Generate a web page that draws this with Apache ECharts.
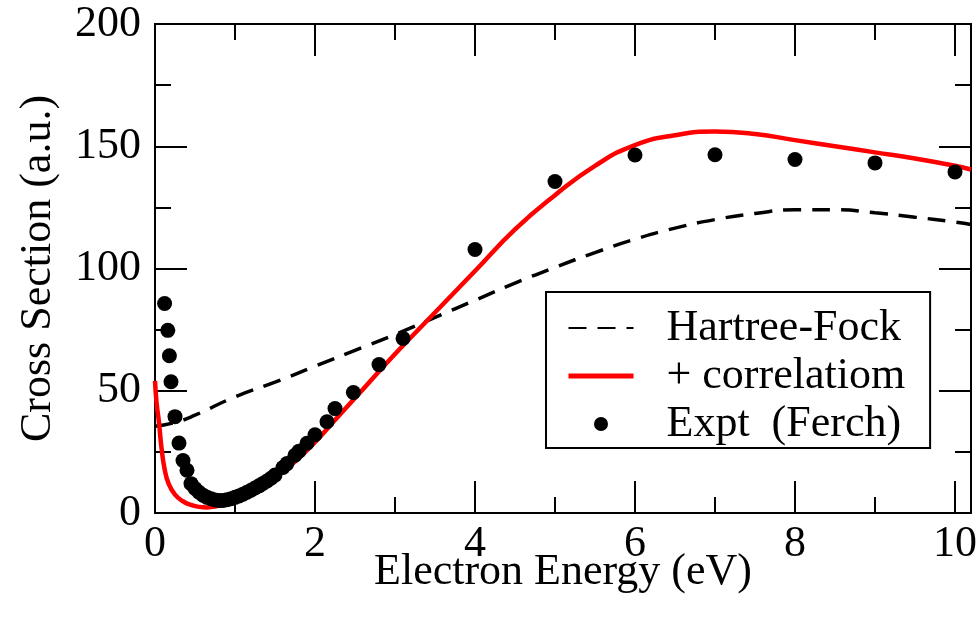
<!DOCTYPE html>
<html>
<head>
<meta charset="utf-8">
<script src="https://cdn.jsdelivr.net/npm/echarts@6/dist/echarts.min.js"></script>
<style>
html,body{margin:0;padding:0;background:#fff;}
#main{width:980px;height:621px;}
</style>
</head>
<body>
<div id="main"></div>
<script>
// 读图得到的数据
var hfX = [0, 0.25, 0.5, 1, 1.5, 2, 2.5, 3, 3.5, 4, 4.5, 5, 5.5, 6, 6.5, 7, 7.5, 8, 8.5, 9, 9.5, 10, 10.2];
var hfY = [35.5, 37, 40, 47.5, 53.5, 60, 66.5, 73, 80, 87, 94, 100.5, 106.5, 112, 116.5, 120, 122.5, 124, 124, 122.8, 121, 119, 118];

var corrX = [0, 0.02, 0.05, 0.08, 0.12, 0.17, 0.25, 0.35, 0.45, 0.55, 0.65, 0.75, 0.9, 1.0, 1.25, 1.5, 1.75, 2.0, 2.25, 2.5, 3.0, 3.5, 4.0, 4.5, 5.0, 5.5, 6.0, 6.5, 7.0, 7.5, 8.0, 8.5, 9.0, 9.5, 10.0, 10.2];
var corrY = [54, 45, 37, 27, 18, 12, 7.5, 4.8, 3.3, 2.5, 2.3, 2.6, 3.8, 5, 9, 14.5, 21, 29, 38, 47, 65, 82, 99, 116, 130, 142, 150.5, 154.5, 156, 155, 152.5, 150, 147.5, 145, 142, 140.5];

var exptX = [0.12, 0.16, 0.18, 0.2, 0.25, 0.3, 0.35, 0.4, 0.45, 0.5, 0.55, 0.6, 0.65, 0.7, 0.75, 0.8, 0.85, 0.9, 0.95, 1.0, 1.05, 1.1, 1.15, 1.2, 1.25, 1.3, 1.35, 1.4, 1.45, 1.5, 1.6, 1.65, 1.75, 1.8, 1.9, 2.0, 2.15, 2.25, 2.48, 2.8, 3.1, 4, 5, 6, 7, 8, 9, 10];
var exptY = [85.7, 74.7, 64.3, 53.7, 39.4, 28.6, 21.5, 17.5, 12, 10, 8.5, 7.3, 6.4, 5.8, 5.3, 5.1, 5.1, 5.4, 5.8, 6.4, 7.0, 7.7, 8.5, 9.3, 10.2, 11.1, 12.1, 13.1, 14.2, 15.5, 18.6, 20.2, 23.6, 25.3, 28.5, 32, 37.3, 42.7, 49.3, 60.7, 71.4, 107.8, 135.6, 146.4, 146.5, 144.6, 143.2, 139.5];

var xMajor = [0, 2, 4, 6, 8, 10];
var xMinor = [1, 3, 5, 7, 9];

function pairs(xs, ys) {
    var out = [];
    for (var i = 0; i < xs.length; i++) out.push([xs[i], ys[i]]);
    return out;
}

var FONT = 'Liberation Serif';
var FS = 44;
var myChart = echarts.init(document.getElementById('main'));

function xAx(pos, vals, len, labels, name) {
    return {
        type: 'value', position: pos, min: 0, max: 10.2,
        name: name || '', nameLocation: 'middle', nameGap: 37, nameMoveOverlap: false,
        nameTextStyle: {fontFamily: FONT, fontSize: FS, color: '#000'},
        axisLine: {show: true, onZero: false, lineStyle: {color: '#000', width: 2}},
        axisTick: {show: true, inside: true, length: len, customValues: vals, lineStyle: {color: '#000', width: 2}},
        axisLabel: {show: labels, customValues: vals, margin: 9, fontFamily: FONT, fontSize: FS, color: '#000'},
        splitLine: {show: false}
    };
}
function yAx(pos, labels, name) {
    return {
        type: 'value', position: pos, min: 0, max: 200, interval: 50,
        name: name || '', nameLocation: 'middle', nameGap: 95,
        nameTextStyle: {fontFamily: FONT, fontSize: FS, color: '#000'},
        axisLine: {show: true, onZero: false, lineStyle: {color: '#000', width: 2}},
        axisTick: {show: true, inside: true, length: 32, lineStyle: {color: '#000', width: 2}},
        minorTick: {show: true, splitNumber: 2, length: 16, lineStyle: {color: '#000', width: 2}},
        axisLabel: {show: labels, margin: 14, fontFamily: FONT, fontSize: FS, color: '#000'},
        splitLine: {show: false}
    };
}

var option = {
    animation: false,
    backgroundColor: '#fff',
    grid: {left: 155, right: 9, top: 24, bottom: 108},
    xAxis: [
        xAx('bottom', xMajor, 32, true, 'Electron Energy (eV)'),
        xAx('bottom', xMinor, 16, false),
        xAx('top', xMajor, 32, false),
        xAx('top', xMinor, 16, false)
    ],
    yAxis: [
        yAx('left', true, 'Cross Section (a.u.)'),
        yAx('right', false)
    ],
    legend: {
        orient: 'vertical', left: 546, top: 292,
        backgroundColor: '#fff',
        borderColor: '#000', borderWidth: 2, borderRadius: 0,
        padding: [14, 25, 2, 20],
        itemWidth: 65, itemHeight: 14, itemGap: 4,
        textStyle: {fontFamily: FONT, fontSize: FS, color: '#000', lineHeight: 44, width: 238, overflow: 'none', padding: [0, 0, 0, 28]},
        data: [
            {name: 'Hartree-Fock', itemStyle: {opacity: 0}},
            {name: '+ correlatiom', itemStyle: {opacity: 0}, lineStyle: {width: 5}},
            {name: 'Expt  (Ferch)'}
        ]
    },
    series: [{
        name: 'Hartree-Fock',
        type: 'line',
        smooth: 0.5,
        symbol: 'none',
        lineStyle: {color: '#000', width: 3.5, type: [18, 11]},
        itemStyle: {color: '#000'},
        data: pairs(hfX, hfY)
    }, {
        name: '+ correlatiom',
        type: 'line',
        smooth: 0.5,
        symbol: 'none',
        lineStyle: {color: '#ff0000', width: 4.5},
        itemStyle: {color: '#ff0000'},
        data: pairs(corrX, corrY)
    }, {
        name: 'Expt  (Ferch)',
        type: 'scatter',
        symbol: 'circle',
        symbolSize: 15,
        itemStyle: {color: '#000', opacity: 1},
        z: 5,
        data: pairs(exptX, exptY)
    }]
};
myChart.setOption(option);
</script>
</body>
</html>
